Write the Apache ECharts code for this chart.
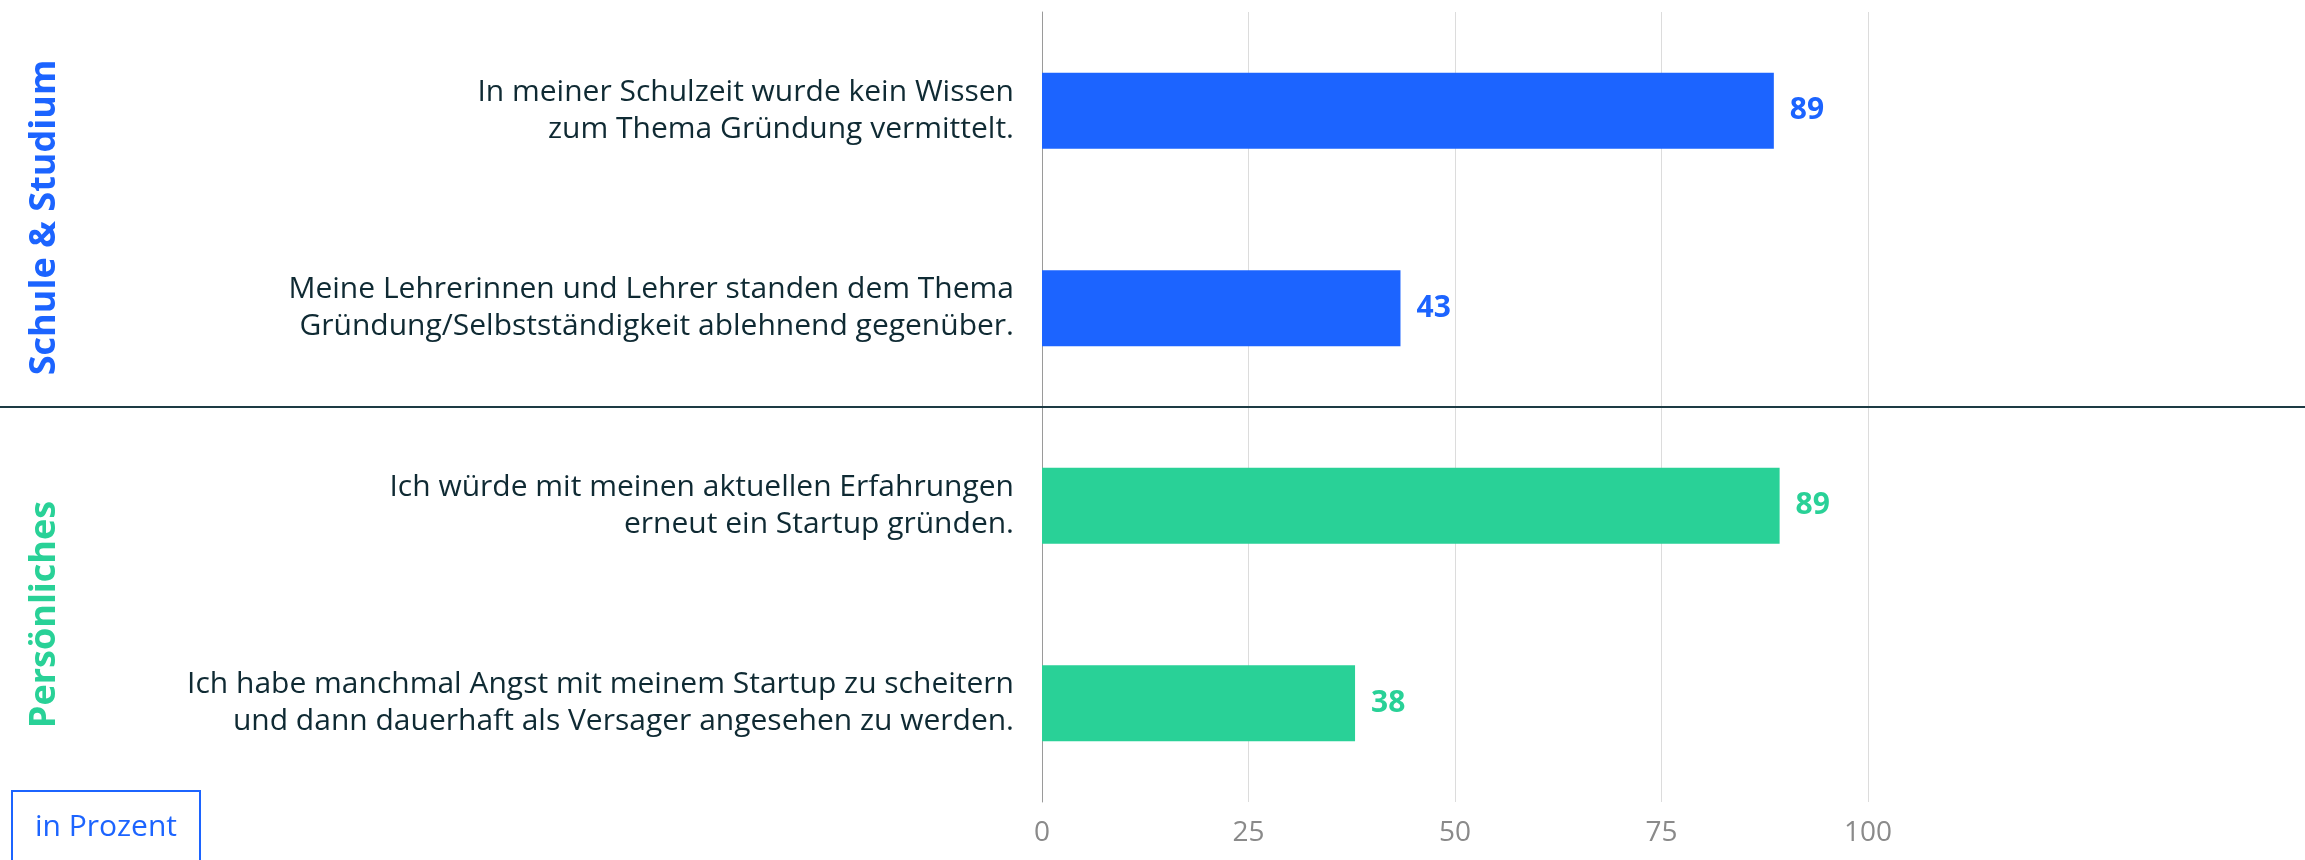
<!DOCTYPE html>
<html>
<head>
<meta charset="utf-8">
<script src="https://cdn.jsdelivr.net/npm/echarts@6/dist/echarts.min.js"></script>
<style>
  html, body { margin: 0; padding: 0; background: #fff; }
  #chart { width: 2305px; height: 860px; }
</style>
</head>
<body>
<div id="chart"></div>
<script>
// statements, top to bottom
const categories = [
  "In meiner Schulzeit wurde kein Wissen\nzum Thema Gründung vermittelt.",
  "Meine Lehrerinnen und Lehrer standen dem Thema\nGründung/Selbstständigkeit ablehnend gegenüber.",
  "Ich würde mit meinen aktuellen Erfahrungen\nerneut ein Startup gründen.",
  "Ich habe manchmal Angst mit meinem Startup zu scheitern\nund dann dauerhaft als Versager angesehen zu werden."
];
const values = [88.6, 43.4, 89.3, 37.9];
const groupOf = [0, 0, 1, 1];
const groups = ["Schule & Studium", "Persönliches"];
const groupColors = ["#1c64ff", "#29d197"];
const xTicks = [0, 25, 50, 75, 100];
const unitLabel = "in Prozent";

const font = "'Open Sans', 'Noto Sans', sans-serif";
const chart = echarts.init(document.getElementById("chart"));

const option = {
  animation: false,
  grid: { left: 1042, right: 437, top: 12, bottom: 58, containLabel: false },
  xAxis: {
    type: "value",
    min: xTicks[0],
    max: xTicks[xTicks.length - 1],
    interval: 25,
    axisLine: { show: false },
    axisTick: { show: false },
    splitLine: { lineStyle: { color: "#dcdcdc", width: 1 } },
    axisLabel: { color: "#8a8a8a", fontSize: 28, fontFamily: font, margin: 17 }
  },
  yAxis: {
    type: "category",
    inverse: true,
    data: categories,
    axisLine: { lineStyle: { color: "#9a9a9a", width: 1 } },
    axisTick: { show: false },
    axisLabel: {
      color: "#0f2a33",
      fontSize: 30,
      lineHeight: 37,
      fontFamily: font,
      margin: 28,
      align: "right"
    }
  },
  series: [
    {
      type: "bar",
      barWidth: 76,
      data: values.map((v, i) => ({
        value: v,
        itemStyle: { color: groupColors[groupOf[i]] },
        label: { color: groupColors[groupOf[i]] }
      })),
      label: {
        show: true,
        position: "right",
        distance: 16,
        fontSize: 30,
        fontWeight: "bold",
        fontFamily: font,
        formatter: p => Math.round(p.value)
      }
    }
  ]
};
chart.setOption(option);

// group divider and side titles
const c1 = chart.convertToPixel({ yAxisIndex: 0 }, categories[1]);
const c2 = chart.convertToPixel({ yAxisIndex: 0 }, categories[2]);
const sepY = Math.round((c1 + c2) / 2);
const plotTop = 12, plotBottom = 860 - 58;

chart.setOption({
  graphic: [
    {
      type: "line",
      shape: { x1: 0, y1: sepY, x2: 2305, y2: sepY },
      style: { stroke: "#1d3b44", lineWidth: 2 },
      z: 10
    },
    {
      type: "text",
      x: 45, y: (plotTop + sepY) / 2 + 8,
      rotation: Math.PI / 2,
      style: {
        text: groups[0], fill: groupColors[0], fontSize: 36, fontWeight: "bold",
        fontFamily: font, align: "center", verticalAlign: "middle"
      }
    },
    {
      type: "text",
      x: 45, y: (sepY + plotBottom) / 2 + 10,
      rotation: Math.PI / 2,
      style: {
        text: groups[1], fill: groupColors[1], fontSize: 36, fontWeight: "bold",
        fontFamily: font, align: "center", verticalAlign: "middle"
      }
    },
    {
      type: "rect",
      shape: { x: 12, y: 791, width: 188, height: 80 },
      style: { fill: "none", stroke: groupColors[0], lineWidth: 2 }
    },
    {
      type: "text",
      x: 106, y: 827,
      style: {
        text: unitLabel, fill: groupColors[0], fontSize: 30,
        fontFamily: font, align: "center", verticalAlign: "middle"
      }
    }
  ]
});
</script>
</body>
</html>
